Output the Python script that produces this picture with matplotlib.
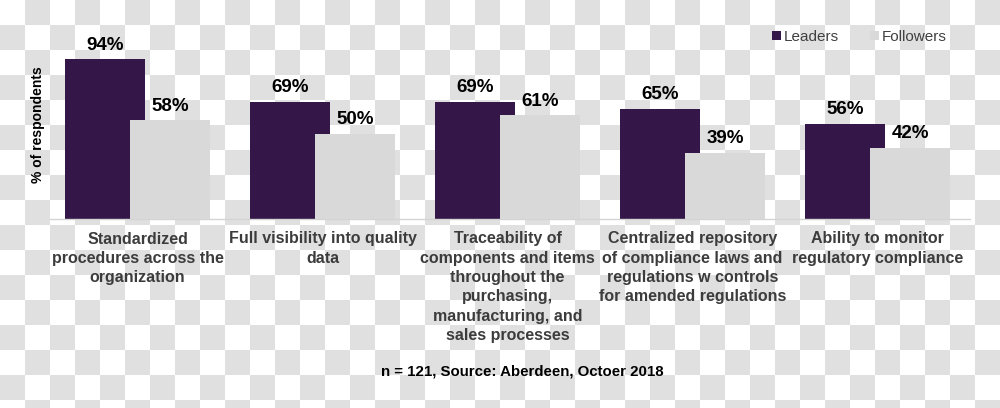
import numpy as np
import matplotlib
matplotlib.use("Agg")
import matplotlib.pyplot as plt
from matplotlib.patches import Patch

categories = [
    "Standardized\nprocedures across the\norganization",
    "Full visibility into quality\ndata",
    "Traceability of\ncomponents and items\nthroughout the\npurchasing,\nmanufacturing, and\nsales processes",
    "Centralized repository\nof compliance laws and\nregulations w controls\nfor amended regulations",
    "Ability to monitor\nregulatory compliance",
]
leaders = [94, 69, 69, 65, 56]
followers = [58, 50, 61, 39, 42]
series_names = ["Leaders", "Followers"]
footnote = "n = 121, Source: Aberdeen, Octoer 2018"
ylabel = "% of respondents"

LEAD_C = "#341748"
FOLL_C = "#d9d9d9"
TXT_C = "#3c3c3c"

plt.rcParams["font.family"] = ["Liberation Sans", "DejaVu Sans"]

W, H = 1000, 408
fig = plt.figure(figsize=(W / 100, H / 100), dpi=100)

# transparent-style checkerboard background
rows = np.arange(H)[:, None] // 25
cols = np.arange(W)[None, :] // 25
mask = (rows + cols) % 2 == 1
bg = np.full((H, W, 3), 255, dtype=np.uint8)
bg[mask] = 224
fig.figimage(bg, xo=0, yo=0, origin="upper", zorder=-10)
fig.patch.set_alpha(0)

ax = fig.add_axes([50 / W, (H - 219) / H, 920 / W, 170 / H])
ax.patch.set_alpha(0)

x = np.arange(len(categories))
bw = 80 / 185
off = 32.5 / 185
b1 = ax.bar(x - off, leaders, width=bw, color=LEAD_C, zorder=2)
b2 = ax.bar(x + off, followers, width=bw, color=FOLL_C, zorder=3)

for bars, vals in ((b1, leaders), (b2, followers)):
    for r, v in zip(bars, vals):
        ax.annotate(f"{v}%", (r.get_x() + r.get_width() / 2, v),
                    xytext=(0, 4), textcoords="offset points",
                    ha="center", va="bottom", fontsize=13.5,
                    fontweight="bold", color="black", zorder=5)

ax.set_xlim(-87.5 / 185, 832.5 / 185)
ax.set_ylim(0, 100)
for s in ("left", "right", "top"):
    ax.spines[s].set_visible(False)
ax.spines["bottom"].set_color("#d4d4d4")
ax.spines["bottom"].set_linewidth(1)
ax.set_yticks([])
ax.set_xticks([])

for i, c in enumerate(categories):
    ax.annotate(c, (i, 0), xycoords=("data", "axes fraction"),
                xytext=(0, -9), textcoords="offset points",
                ha="center", va="top", multialignment="center",
                fontsize=11.5, fontweight="bold", color=TXT_C,
                linespacing=1.36)

fig.text(38 / W, 1 - 125 / H, ylabel, rotation=90, ha="center", va="center",
         fontsize=10, fontweight="bold", color="black")

fig.text(522 / W, 1 - 371 / H, footnote, ha="center", va="center",
         fontsize=10.8, fontweight="bold", color="black")

handles = [Patch(facecolor=LEAD_C), Patch(facecolor=FOLL_C)]
fig.legend(handles, series_names, loc="center right",
           bbox_to_anchor=(947 / W, 1 - 37 / H), ncol=2, frameon=False,
           fontsize=11, handlelength=0.6, handleheight=0.6,
           handletextpad=0.2, columnspacing=2.0, borderpad=0,
           borderaxespad=0, labelcolor="#404040")

fig.savefig("out.png", dpi=100)
